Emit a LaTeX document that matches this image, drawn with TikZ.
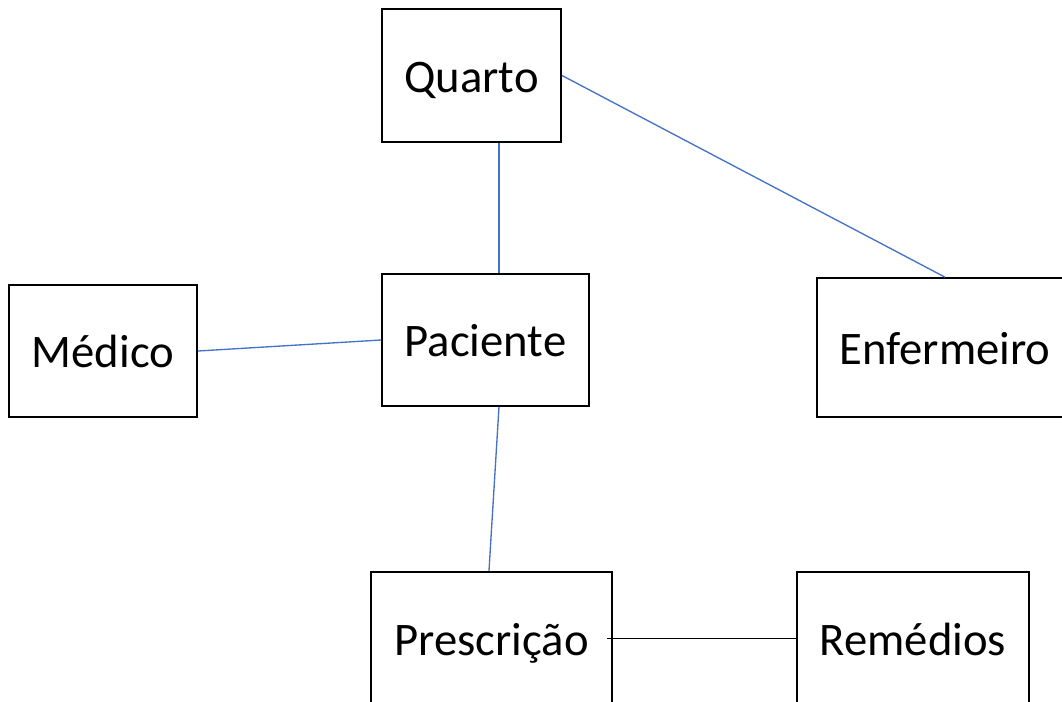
\documentclass[tikz,border=0pt]{standalone}
\usepackage{fontspec}
\setmainfont{Carlito}
\usetikzlibrary{positioning}

\definecolor{linkblue}{RGB}{68,114,196}

\tikzset{
    entity/.style = {rectangle, draw=black, line width=1.5pt, fill=white, inner sep=0pt,
                     text height=30pt, text depth=4.8pt,
                     font=\fontsize{35}{42}\selectfont},
    rel/.style    = {draw=linkblue, line width=1pt},
}

\begin{document}
\begin{tikzpicture}[x=0.75pt, y=-0.75pt]

            % \draw [help lines] (0,0) grid (1062,701);
            \clip (0,0) rectangle (1062,701);

            \path   (471.5,75.5) node (q)  [entity, minimum width=134.25pt, minimum height=99.75pt] {Quarto}
                    (103,351)    node (m)  [entity, minimum width=141pt,    minimum height=99pt]    {Médico}
                    (485.5,340)  node (p)  [entity, minimum width=155.25pt, minimum height=99pt]    {Paciente}
                    (945,347.5)  node (e)  [entity, minimum width=192pt,    minimum height=104pt]   {Enfermeiro}
                    (491.5,638.5) node (pr) [entity, minimum width=180.75pt, minimum height=99.75pt] {Prescrição}
                    (913,638.5)  node (r)  [entity, minimum width=174pt,    minimum height=99.75pt] {Remédios};

            \draw[rel] ([xshift=20.6pt]q.south) -- ([xshift=10.1pt]p.north);
            \draw[rel] (q.east) -- (e.north);
            \draw[rel] (m.east) -- (p.west);
            \draw[rel] ([xshift=10.1pt]p.south) -- ([xshift=-1.9pt]pr.north);
            \draw[line width=0.75pt] ([xshift=-4.5pt]pr.east) -- (r.west);

        \end{tikzpicture}
\end{document}
